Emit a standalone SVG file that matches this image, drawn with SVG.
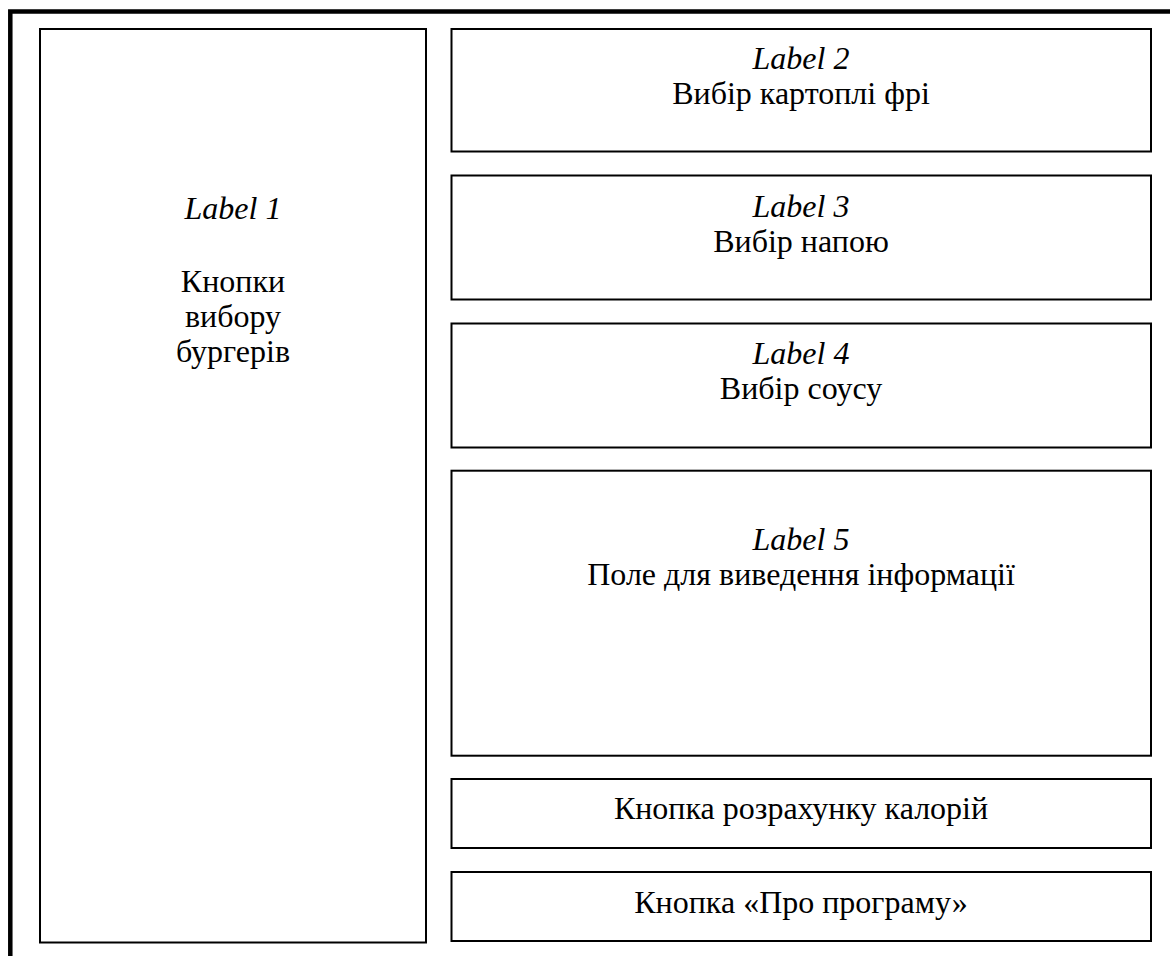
<svg xmlns="http://www.w3.org/2000/svg" width="1170" height="956" viewBox="0 0 1170 956">
<style>
.box{fill:#fff;stroke:#000;stroke-width:2}
.frame{fill:none;stroke:#000;stroke-width:4.5}
text{font-family:"Liberation Serif","Times New Roman",serif;font-size:32px;fill:#000;text-anchor:middle}
.it{font-style:italic}
</style>
<rect width="1170" height="956" fill="#fff"/>
<g id="frame">
<path class="frame" d="M10.3,956 V11.5 H1170"/>
</g>
<g id="node1">
<rect class="box" x="40" y="29" width="386" height="913.5"/>
<text x="233" y="219" class="it">Label 1</text>
<text x="233" y="292">Кнопки</text>
<text x="233" y="327">вибору</text>
<text x="233" y="362">бургерів</text>
</g>
<g id="node2">
<rect class="box" x="451.5" y="29" width="699.5" height="122.5"/>
<text x="801" y="69" class="it">Label 2</text>
<text x="801" y="104">Вибір картоплі фрі</text>
</g>
<g id="node3">
<rect class="box" x="451.5" y="175.5" width="699.5" height="124"/>
<text x="801" y="217" class="it">Label 3</text>
<text x="801" y="252">Вибір напою</text>
</g>
<g id="node4">
<rect class="box" x="451.5" y="323.5" width="699.5" height="124"/>
<text x="801" y="364" class="it">Label 4</text>
<text x="801" y="399">Вибір соусу</text>
</g>
<g id="node5">
<rect class="box" x="451.5" y="470.7" width="699.5" height="285"/>
<text x="801" y="550" class="it">Label 5</text>
<text x="801" y="585">Поле для виведення інформації</text>
</g>
<g id="node6">
<rect class="box" x="451.5" y="779" width="699.5" height="69"/>
<text x="801" y="819">Кнопка розрахунку калорій</text>
</g>
<g id="node7">
<rect class="box" x="451.5" y="872" width="699.5" height="69"/>
<text x="801" y="913">Кнопка «Про програму»</text>
</g>
<g id="connectors"/>
</svg>
